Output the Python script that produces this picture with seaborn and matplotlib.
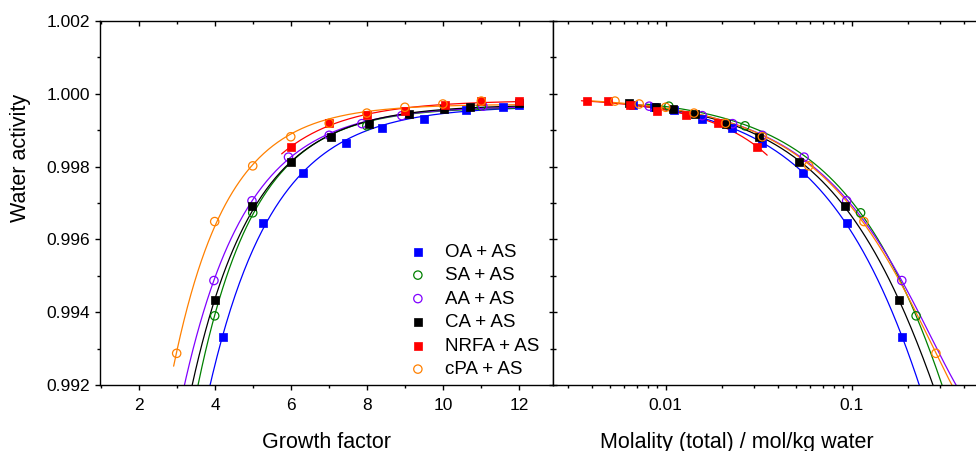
import numpy as np
import pandas as pd
import matplotlib
matplotlib.use("Agg")
import matplotlib.pyplot as plt
import matplotlib.ticker as mticker
import seaborn as sns

# ---------------- data ----------------
systems = ["OA + AS", "SA + AS", "AA + AS", "CA + AS", "NRFA + AS", "cPA + AS"]

gf_OA = [4.2, 5.27, 6.30, 7.45, 8.39, 9.48, 10.6, 11.56, 12.0]
aw_OA = [0.99331, 0.99645, 0.99782, 0.99864, 0.99905, 0.99931, 0.99956, 0.99963, 0.99969]
m_OA = [0.187, 0.094, 0.0545, 0.0328, 0.0228, 0.01573, 0.01112, 0.00869, 0.00665]

gf_SA = [3.99, 4.99, 7.99, 11.0]
aw_SA = [0.99390, 0.99673, 0.99912, 0.99966]
m_SA = [0.222, 0.1117, 0.0267, 0.0104]

gf_AA = [3.97, 4.97, 5.93, 7.0, 7.86, 8.91, 11.04]
aw_AA = [0.99487, 0.99706, 0.99826, 0.99886, 0.99918, 0.99940, 0.99966]
m_AA = [0.186, 0.094, 0.0555, 0.0331, 0.0229, 0.01573, 0.00816]

gf_CA = [4.0, 4.98, 6.0, 7.06, 8.06, 9.11, 10.03, 10.71, 11.98]
aw_CA = [0.99433, 0.99691, 0.99814, 0.99880, 0.99918, 0.99944, 0.99957, 0.99965, 0.99975]
m_CA = [0.1795, 0.0925, 0.0522, 0.0319, 0.0211, 0.01438, 0.0110, 0.0089, 0.00637]

gf_NRFA = [6.0, 7.0, 8.0, 9.0, 10.05, 11.0, 12.0]
aw_NRFA = [0.99853, 0.99920, 0.99942, 0.99953, 0.99970, 0.99980, 0.99980]
m_NRFA = [0.0311, 0.01918, 0.01285, 0.00901, 0.00643, 0.00491, 0.00379]

gf_cPA = [2.99, 3.99, 4.99, 5.99, 7.0, 7.99, 8.99, 9.99, 11.0]
aw_cPA = [0.99287, 0.99649, 0.99802, 0.99882, 0.99919, 0.99947, 0.99963, 0.99972, 0.99980]
m_cPA = [0.2838, 0.1164, 0.0588, 0.0331, 0.0210, 0.0142, 0.0100, 0.00721, 0.00534]

gf_all = [gf_OA, gf_SA, gf_AA, gf_CA, gf_NRFA, gf_cPA]
aw_all = [aw_OA, aw_SA, aw_AA, aw_CA, aw_NRFA, aw_cPA]
m_all = [m_OA, m_SA, m_AA, m_CA, m_NRFA, m_cPA]

# ---------------- styles ----------------
colors = ["#0000FF", "#008000", "#8000FF", "#000000", "#FF0000", "#FF8000"]
filled = [True, False, False, True, True, False]
gf_ext_low = [1.0, 1.0, 1.0, 1.0, 0.25, 0.08]   # how far fit lines run below first point
m_ext_low = [0.97, 0.75, 0.95, 1.0, 0.93, 0.72]  # factor on min molality
m_ext_high = [3, 3, 3, 3, 1.13, 3]               # factor on max molality

sns.set_theme(style="ticks")
plt.rcParams["font.family"] = ["Liberation Sans", "DejaVu Sans"]
plt.rcParams["axes.linewidth"] = 1.0

fig = plt.figure(figsize=(9.76, 4.51), dpi=100)
W, H = 976, 451
bot = 1 - 385 / H
hgt = 364 / H
ax1 = fig.add_axes([100 / W, bot, 453 / W, hgt])
ax2 = fig.add_axes([553 / W, bot, 423 / W, hgt])


def expdec_fit(x, y):
    x = np.asarray(x); y = np.asarray(y)
    best = None
    for t in np.linspace(0.3, 8, 800):
        X = np.column_stack([np.ones_like(x), np.exp(-x / t)])
        coef, *_ = np.linalg.lstsq(X, y, rcond=None)
        r = np.sum((X @ coef - y) ** 2)
        if best is None or r < best[0]:
            best = (r, coef[0], coef[1], t)
    return best[1:]


for i, name in enumerate(systems):
    gf = np.asarray(gf_all[i]); aw = np.asarray(aw_all[i]); m = np.asarray(m_all[i])
    c = colors[i]
    # ---- fit lines ----
    y0, A, t = expdec_fit(gf, aw)
    xg = np.linspace(gf.min() - gf_ext_low[i], 12.0, 300)
    fit_gf = pd.DataFrame({"x": xg, "y": y0 + A * np.exp(-xg / t)})
    sns.lineplot(data=fit_gf, x="x", y="y", ax=ax1, color=c, lw=0.9,
                 sort=False, estimator=None, legend=False)
    coef = np.polyfit(m, aw, 2)
    xm = np.geomspace(m.min() * m_ext_low[i], m.max() * m_ext_high[i], 300)
    fit_m = pd.DataFrame({"x": xm, "y": np.polyval(coef, xm)})
    sns.lineplot(data=fit_m, x="x", y="y", ax=ax2, color=c, lw=0.9,
                 sort=False, estimator=None, legend=False)

for i, name in enumerate(systems):
    c = colors[i]
    if filled[i]:
        kw = dict(marker="s", s=30, color=c, edgecolor=c, linewidth=0.5)
    else:
        kw = dict(marker="o", s=36, facecolor="none", edgecolor=c, linewidth=0.9)
    d1 = pd.DataFrame({"x": gf_all[i], "y": aw_all[i]})
    sns.scatterplot(data=d1, x="x", y="y", ax=ax1, label=name, zorder=5, **kw)
    d2 = pd.DataFrame({"x": m_all[i], "y": aw_all[i]})
    sns.scatterplot(data=d2, x="x", y="y", ax=ax2, zorder=5, legend=False, **kw)

# ---------------- axes: left ----------------
ax1.set_xlim(0.974, 12.885)
ax1.set_ylim(0.992, 1.002)
ax1.xaxis.set_major_locator(mticker.MultipleLocator(2))
ax1.xaxis.set_minor_locator(mticker.MultipleLocator(1))
ax1.yaxis.set_major_locator(mticker.MultipleLocator(0.002))
ax1.yaxis.set_minor_locator(mticker.MultipleLocator(0.001))
ax1.yaxis.set_major_formatter(mticker.FormatStrFormatter("%.3f"))
ax1.tick_params(axis="both", which="major", labelsize=12.5, length=3.6, width=1.0,
                color="black", labelcolor="black")
ax1.tick_params(axis="both", which="minor", length=2.4, width=1.0, color="black")
ax1.tick_params(axis="y", which="both", direction="out", right=False, pad=3.5)
ax1.tick_params(axis="x", which="both", direction="out", bottom=True, pad=6)
ax1.tick_params(axis="x", which="both", top=True)
for tk in ax1.xaxis.get_major_ticks() + ax1.xaxis.get_minor_ticks():
    tk.tick2line.set_marker(matplotlib.lines.TICKDOWN)
ax1.set_xlabel("Growth factor", fontsize=15.5, color="black")
ax1.set_ylabel("Water activity", fontsize=15.5, color="black")
ax1.xaxis.set_label_coords(0.5, -0.128)
ax1.yaxis.set_label_coords(-0.152, 0.624)
for sp in ax1.spines.values():
    sp.set_visible(True); sp.set_color("black"); sp.set_linewidth(1.0)

leg = ax1.legend(loc="upper left", bbox_to_anchor=(0.681, 0.389), frameon=False,
                 fontsize=13.5, borderpad=0, borderaxespad=0, handlelength=1.0,
                 handletextpad=0.95, labelspacing=0.34, markerscale=1.0)
for txt in leg.get_texts():
    txt.set_color("black")

# ---------------- axes: right ----------------
ax2.set_xscale("log")
ax2.set_xlim(0.00248, 0.466)
ax2.set_ylim(0.992, 1.002)
ax2.xaxis.set_major_locator(mticker.LogLocator(base=10, numticks=10))
ax2.xaxis.set_minor_locator(mticker.LogLocator(base=10, subs=np.arange(2, 10), numticks=20))
ax2.xaxis.set_major_formatter(mticker.FuncFormatter(lambda v, p: f"{v:g}"))
ax2.xaxis.set_minor_formatter(mticker.NullFormatter())
ax2.yaxis.set_major_locator(mticker.MultipleLocator(0.002))
ax2.yaxis.set_minor_locator(mticker.MultipleLocator(0.001))
ax2.tick_params(axis="y", which="both", labelleft=False, direction="inout",
                left=True, right=False, color="black")
ax2.tick_params(axis="y", which="major", length=6, width=1.0)
ax2.tick_params(axis="y", which="minor", length=5, width=1.0)
ax2.tick_params(axis="x", which="major", labelsize=12.5, length=3.6, width=1.0,
                direction="out", pad=6, color="black", labelcolor="black", top=True)
ax2.tick_params(axis="x", which="minor", length=2.4, width=1.0, direction="out",
                color="black", top=True)
for tk in ax2.xaxis.get_major_ticks() + ax2.xaxis.get_minor_ticks():
    tk.tick2line.set_marker(matplotlib.lines.TICKDOWN)
ax2.set_xlabel("Molality (total) / mol/kg water", fontsize=15.5, color="black")
ax2.set_ylabel("")
ax2.xaxis.set_label_coords(0.434, -0.128)
for name_, sp in ax2.spines.items():
    sp.set_visible(name_ != "right"); sp.set_color("black"); sp.set_linewidth(1.0)

fig.savefig("out.png", dpi=100)
